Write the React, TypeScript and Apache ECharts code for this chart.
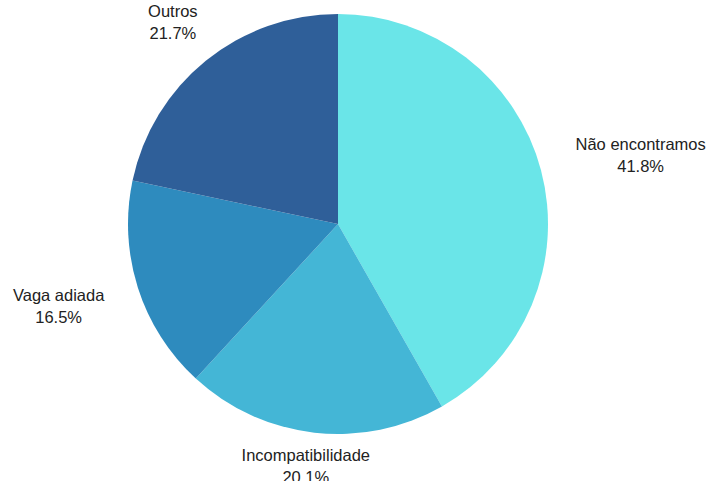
import React, { useEffect, useRef } from "react";
import * as echarts from "echarts";

const categories = ["Não encontramos", "Incompatibilidade", "Vaga adiada", "Outros"];
const shares = [41.8, 20.1, 16.5, 21.7];
const colors = ["#6AE5E8", "#44B6D6", "#2E8BBE", "#2F5F99"];

const W = 709;
const H = 481;
const CX = 338;
const CY = 224;
const R = 210;

export default function App() {
  const ref = useRef<HTMLDivElement>(null);
  useEffect(() => {
    if (!ref.current) return;
    const chart = echarts.init(ref.current, null, { renderer: "svg" });
    const total = shares.reduce((a, b) => a + b, 0);
    const mids: number[] = [];
    let acc = 0;
    shares.forEach((v) => {
      mids.push(((acc + v / 2) / total) * Math.PI * 2);
      acc += v;
    });
    chart.setOption({
      animation: false,
      backgroundColor: "#ffffff",
      series: [
        {
          type: "pie",
          center: [CX, CY],
          radius: [0, R],
          startAngle: 90,
          clockwise: true,
          avoidLabelOverlap: false,
          data: categories.map((name, i) => ({
            name,
            value: shares[i],
            itemStyle: { color: colors[i] },
          })),
          itemStyle: { borderWidth: 0 },
          emphasis: { disabled: true },
          label: {
            show: true,
            position: "outside",
            fontFamily: "'Liberation Sans', Arial, sans-serif",
            fontSize: 16.5,
            lineHeight: 22,
            color: "#222222",
            align: "center",
            formatter: (p: any) => `${p.name}\n${Number(p.value).toFixed(1)}%`,
          },
          labelLine: { show: false },
          labelLayout: (params: any) => {
            const a = mids[params.dataIndex];
            const dx = Math.sin(a);
            const dy = -Math.cos(a);
            const w = params.labelRect.width;
            const h = params.labelRect.height;
            const G = R + 8 + 31 * Math.abs(dx);
            return {
              x: CX + dx * G + (dx * w) / 2,
              y: CY + dy * G + (dy * h) / 2,
              align: "center",
              verticalAlign: "middle",
            };
          },
        },
      ],
    });
    return () => chart.dispose();
  }, []);
  return (
    <div
      ref={ref}
      style={{ position: "fixed", left: 0, top: 0, width: W, height: H }}
    />
  );
}
